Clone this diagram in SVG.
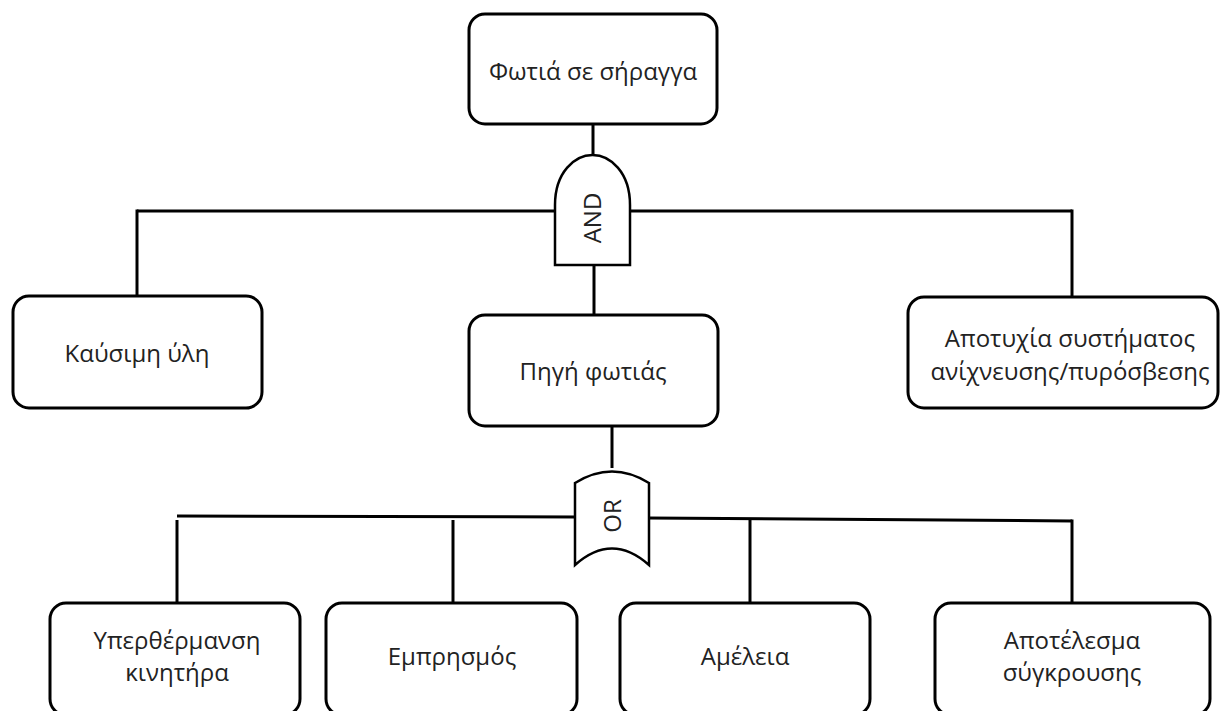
<svg xmlns="http://www.w3.org/2000/svg" width="1221" height="711" viewBox="0 0 1221 711">
<style>
.box{fill:#fff;stroke:#000;stroke-width:3}
.gate{fill:#fff;stroke:#000;stroke-width:2.5}
.ln{fill:none;stroke:#000;stroke-width:3}
text{font-family:"Open Sans","Noto Sans","DejaVu Sans",sans-serif;font-size:24px;fill:#222;text-anchor:middle}
</style>
<rect width="1221" height="711" fill="#fff"/>
<g id="connectors">
<line class="ln" x1="593" y1="124" x2="593" y2="156"/>
<line class="ln" x1="137" y1="211" x2="556" y2="211"/>
<line class="ln" x1="629" y1="211" x2="1072" y2="211"/>
<line class="ln" x1="137" y1="209.5" x2="137" y2="296"/>
<line class="ln" x1="1072" y1="209.5" x2="1072" y2="297"/>
<line class="ln" x1="594" y1="264" x2="594" y2="316"/>
<line class="ln" x1="612" y1="425" x2="612" y2="468"/>
<line class="ln" x1="177" y1="516" x2="576" y2="517"/>
<line class="ln" x1="648" y1="518" x2="1072" y2="521"/>
<line class="ln" x1="177" y1="520" x2="177" y2="604"/>
<line class="ln" x1="453" y1="520" x2="453" y2="604"/>
<line class="ln" x1="750" y1="520" x2="750" y2="604"/>
<line class="ln" x1="1072" y1="519.5" x2="1072" y2="604"/>
</g>
<g id="top-event">
<rect class="box" x="469" y="14" width="248" height="110" rx="16"/>
<text x="593" y="80">Φωτιά σε σήραγγα</text>
</g>
<g id="and-gate">
<path class="gate" d="M555,265 L555,205 C555,172 575,155 592.5,155 C610,155 630,172 630,205 L630,265 Z"/>
<text transform="translate(601,218) rotate(-90)">AND</text>
</g>
<g id="fuel">
<rect class="box" x="13" y="296" width="249" height="112" rx="16"/>
<text x="137" y="362">Καύσιμη ύλη</text>
</g>
<g id="fire-source">
<rect class="box" x="469" y="315" width="249" height="111" rx="16"/>
<text x="593" y="380">Πηγή φωτιάς</text>
</g>
<g id="system-failure">
<rect class="box" x="908" y="297" width="310" height="111" rx="16"/>
<text x="1070" y="347">Αποτυχία συστήματος</text>
<text x="1070" y="380">ανίχνευσης/πυρόσβεσης</text>
</g>
<g id="or-gate">
<path class="gate" d="M575,565 L575,483 Q612,460 649,483 L649,565 Q612,532 575,565 Z"/>
<text transform="translate(621,516) rotate(-90)">OR</text>
</g>
<g id="overheating">
<rect class="box" x="50" y="603" width="250" height="112" rx="16"/>
<text x="177" y="649">Υπερθέρμανση</text>
<text x="177" y="681">κινητήρα</text>
</g>
<g id="arson">
<rect class="box" x="326" y="603" width="251" height="112" rx="16"/>
<text x="452" y="665">Εμπρησμός</text>
</g>
<g id="negligence">
<rect class="box" x="620" y="603" width="250" height="112" rx="16"/>
<text x="745" y="665">Αμέλεια</text>
</g>
<g id="collision">
<rect class="box" x="935" y="603" width="275" height="112" rx="16"/>
<text x="1072" y="649">Αποτέλεσμα</text>
<text x="1072" y="681">σύγκρουσης</text>
</g>
</svg>
